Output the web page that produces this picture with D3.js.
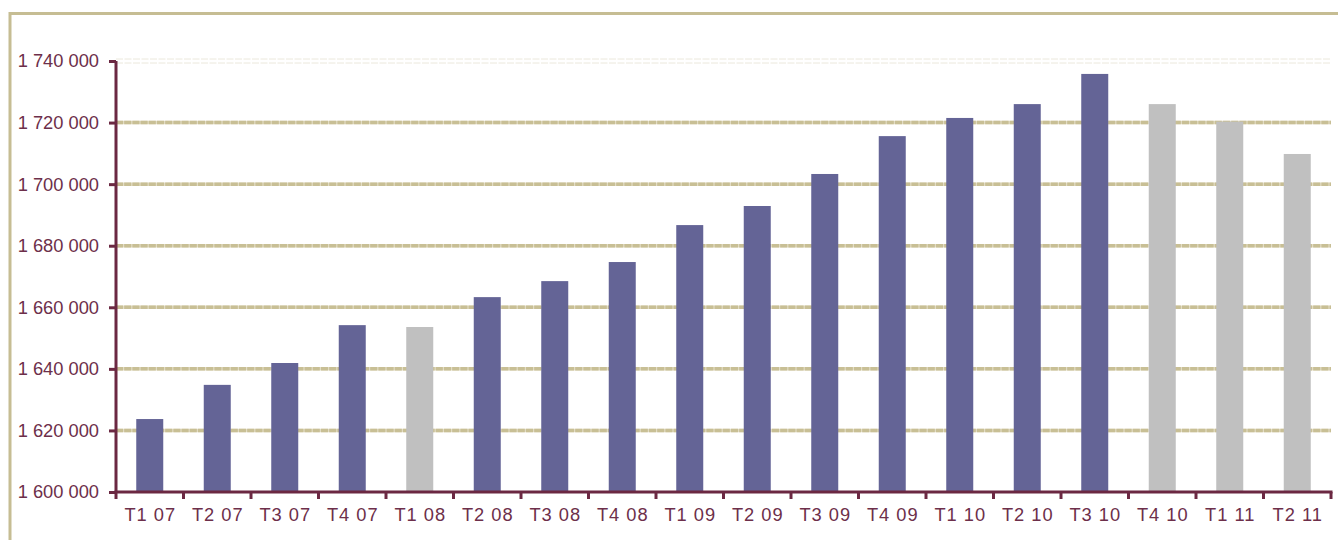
<!DOCTYPE html>
<html>
<head>
<meta charset="utf-8">
<script src="https://cdn.jsdelivr.net/npm/d3@7"></script>
<style>
  html, body { margin: 0; padding: 0; background: #fff; }
  svg { display: block; }
  text { font-family: "Liberation Sans", Arial, sans-serif; }
</style>
</head>
<body>
<svg id="chart" width="1338" height="540"></svg>
<script>
// Quarterly figures, 2007 Q1 to 2011 Q2
const quarters = ["T1 07","T2 07","T3 07","T4 07","T1 08","T2 08","T3 08","T4 08",
                  "T1 09","T2 09","T3 09","T4 09","T1 10","T2 10","T3 10","T4 10",
                  "T1 11","T2 11"];
const values = [1623700, 1634800, 1641900, 1654200, 1653600, 1663300, 1668500, 1674700,
                1686700, 1692900, 1703300, 1715600, 1721500, 1726000, 1735800, 1726000,
                1720300, 1709800];
// quarters drawn in grey
const highlighted = ["T1 08","T4 10","T1 11","T2 11"];
const yTicks = [1600000, 1620000, 1640000, 1660000, 1680000, 1700000, 1720000, 1740000];

const svg = d3.select("#chart");
const W = 1338, H = 540;
const mLeft = 116, mRight = 1331, mTop = 61, mBottom = 492;

const axisColor = "#6b2842";
const textColor = "#6d2f4a";
const gridColor = "#c8bf95";

// outer frame (top and left edges)
svg.append("line").attr("x1", 10).attr("x2", W).attr("y1", 13.5).attr("y2", 13.5)
  .attr("stroke", "#c6bd93").attr("stroke-width", 3);
svg.append("line").attr("x1", 10).attr("x2", 10).attr("y1", 12).attr("y2", H)
  .attr("stroke", "#c6bd93").attr("stroke-width", 3);

const x = d3.scaleBand().domain(quarters).range([mLeft, mRight]).paddingInner(0.6).paddingOuter(0.3);
const xb = d3.scaleBand().domain(quarters).range([mLeft, mRight]);
const y = d3.scaleLinear().domain([1600000, 1740000]).range([mBottom, mTop]);

const fmt = v => d3.format(",")(v).replace(/,/g, " ");

// gridlines: light base with darker dashes on top
const grid = svg.append("g");
yTicks.filter(t => t > 1600000 && t < 1740000).forEach(t => {
  grid.append("line")
    .attr("x1", mLeft).attr("x2", mRight)
    .attr("y1", y(t)).attr("y2", y(t))
    .attr("stroke", "#e2dcc4").attr("stroke-width", 3.5);
  grid.append("line")
    .attr("x1", mLeft).attr("x2", mRight)
    .attr("y1", y(t)).attr("y2", y(t))
    .attr("stroke", gridColor).attr("stroke-width", 3.5)
    .attr("stroke-dasharray", "7,1.2");
});
// top gridline, faint
[-2, 2].forEach(o => {
  grid.append("line")
    .attr("x1", mLeft).attr("x2", mRight)
    .attr("y1", y(1740000) + o).attr("y2", y(1740000) + o)
    .attr("stroke", "#ebe8dc").attr("stroke-width", 1)
    .attr("stroke-dasharray", "7,1.5");
});

// bars
svg.append("g").selectAll("rect").data(quarters).join("rect")
  .attr("x", (d) => x(d))
  .attr("width", x.bandwidth())
  .attr("y", (d, i) => y(values[i]))
  .attr("height", (d, i) => y(1600000) - y(values[i]))
  .attr("fill", d => highlighted.includes(d) ? "#c0c0c0" : "#646496");

// y axis
const yAxis = svg.append("g").attr("transform", `translate(${mLeft},0)`)
  .call(d3.axisLeft(y).tickValues(yTicks).tickFormat(fmt).tickSize(7).tickPadding(10));
yAxis.select(".domain").attr("stroke", axisColor).attr("stroke-width", 3)
  .attr("d", `M0,${mTop}V${mBottom}`);
yAxis.selectAll(".tick line").attr("stroke", axisColor).attr("stroke-width", 3);
yAxis.selectAll(".tick text").attr("fill", textColor).attr("font-size", 18.3)
  .attr("font-family", "'Liberation Sans', Arial, sans-serif");

// x axis with ticks at category boundaries
const xAxisG = svg.append("g").attr("transform", `translate(0,${mBottom})`);
xAxisG.append("line").attr("x1", mLeft - 1.5).attr("x2", mRight + 1.5)
  .attr("stroke", axisColor).attr("stroke-width", 3);
const bounds = quarters.map(q => xb(q)).concat([mRight]);
xAxisG.selectAll("line.tk").data(bounds).join("line").attr("class", "tk")
  .attr("x1", d => d).attr("x2", d => d).attr("y1", 0).attr("y2", 7)
  .attr("stroke", axisColor).attr("stroke-width", 3);
xAxisG.selectAll("text").data(quarters).join("text")
  .attr("x", d => xb(d) + xb.bandwidth() / 2 + 0.5)
  .attr("y", 29)
  .attr("text-anchor", "middle")
  .attr("fill", textColor)
  .attr("font-size", 18.3)
  .attr("letter-spacing", 1)
  .text(d => d);
</script>
</body>
</html>
